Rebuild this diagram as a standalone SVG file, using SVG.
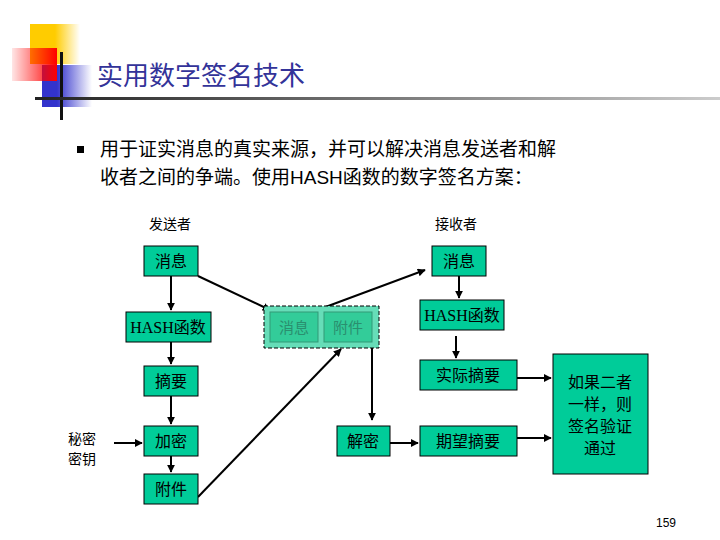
<svg xmlns="http://www.w3.org/2000/svg" width="720" height="540" viewBox="0 0 720 540">
<defs>
<style>
.n{fill:#00CC99;stroke:#000;stroke-width:1}
.t{font-family:"Liberation Serif","Noto Sans CJK SC",serif;font-size:16px;fill:#000;text-anchor:middle}
.c line,.c polyline{stroke:#000;stroke-width:2;fill:none;marker-end:url(#a)}
</style>
<marker id="a" viewBox="0 0 10 10" refX="9" refY="5" markerWidth="4" markerHeight="4" orient="auto"><path d="M0,0L10,5L0,10z" fill="#000"/></marker>
<linearGradient id="gy" x1="0" x2="1"><stop offset="0.5" stop-color="#FFCC00"/><stop offset="1" stop-color="#FFCC00" stop-opacity="0"/></linearGradient>
<linearGradient id="gr" x1="1" x2="0"><stop offset="0" stop-color="#FF0000"/><stop offset="1" stop-color="#FF0000" stop-opacity="0.1"/></linearGradient>
<linearGradient id="gb" x1="0" x2="1"><stop offset="0.3" stop-color="#3333CC"/><stop offset="1" stop-color="#3333CC" stop-opacity="0"/></linearGradient>
<linearGradient id="gl" x1="0" x2="1"><stop offset="0" stop-color="#222"/><stop offset="1" stop-color="#ccc"/></linearGradient>
</defs>
<rect width="720" height="540" fill="#fff"/>
<g id="logo">
<rect x="30" y="24" width="50" height="40" fill="url(#gy)"/>
<rect x="42" y="65" width="50" height="42" fill="url(#gb)"/>
<rect x="12" y="48" width="45" height="33" fill="url(#gr)"/>
<rect x="60" y="52" width="3" height="68" fill="#111"/>
<rect x="35" y="97" width="685" height="3" fill="url(#gl)"/>
</g>
<text x="97" y="85" style="font-family:'Noto Sans CJK SC',sans-serif;font-size:26px;fill:#333399">实用数字签名技术</text>
<rect x="77" y="146" width="7" height="7" fill="#000"/>
<text style="font-family:'Liberation Sans','Noto Sans CJK SC',sans-serif;font-size:19px;fill:#000"><tspan x="100" y="156">用于证实消息的真实来源，并可以解决消息发送者和解</tspan><tspan x="100" y="184">收者之间的争端。使用HASH函数的数字签名方案：</tspan></text>
<text x="170" y="229" class="t" style="font-size:14px">发送者</text>
<text x="456" y="229" class="t" style="font-size:14px">接收者</text>
<text class="t" style="font-size:14px"><tspan x="82" y="444">秘密</tspan><tspan x="82" y="464">密钥</tspan></text>
<g class="c">
<line x1="171" y1="276" x2="171" y2="310"/>
<line x1="171" y1="342" x2="171" y2="364"/>
<line x1="171" y1="396" x2="171" y2="424"/>
<line x1="171" y1="456" x2="171" y2="472"/>
<line x1="114" y1="443" x2="142" y2="443"/>
<line x1="198" y1="276" x2="270" y2="310"/>
<line x1="312" y1="312" x2="425" y2="270"/>
<line x1="198" y1="497" x2="341" y2="349"/>
<polyline points="372,342 372,420"/>
<line x1="390" y1="443" x2="418" y2="443"/>
<line x1="459" y1="276" x2="459" y2="298"/>
<line x1="456" y1="336" x2="456" y2="358"/>
<line x1="517" y1="378" x2="551" y2="378"/>
<line x1="517" y1="438" x2="551" y2="438"/>
</g>
<g id="s_msg"><rect class="n" x="144" y="246" width="54" height="30"/><text class="t" x="171" y="267">消息</text></g>
<g id="s_hash"><rect class="n" x="126" y="312" width="85" height="30"/><text class="t" x="168" y="333">HASH函数</text></g>
<g id="s_dig"><rect class="n" x="144" y="366" width="54" height="30"/><text class="t" x="171" y="387">摘要</text></g>
<g id="s_enc"><rect class="n" x="144" y="426" width="54" height="30"/><text class="t" x="171" y="447">加密</text></g>
<g id="s_att"><rect class="n" x="144" y="474" width="54" height="30"/><text class="t" x="171" y="495">附件</text></g>
<g id="mid">
<rect x="264" y="306" width="115" height="42" fill="#66DDB8" stroke="#000" stroke-dasharray="4,2"/>
<rect x="270" y="312" width="48" height="30" fill="#33CC99" stroke="#339977"/>
<text class="t" x="294" y="333" style="fill:#2a8f6f;font-size:15px">消息</text>
<rect x="324" y="312" width="48" height="30" fill="#33CC99" stroke="#339977"/>
<text class="t" x="348" y="333" style="fill:#2a8f6f;font-size:15px">附件</text>
</g>
<g id="dec"><rect class="n" x="337" y="426" width="53" height="30"/><text class="t" x="363" y="447">解密</text></g>
<g id="r_msg"><rect class="n" x="432" y="246" width="54" height="30"/><text class="t" x="459" y="267">消息</text></g>
<g id="r_hash"><rect class="n" x="420" y="300" width="84" height="30"/><text class="t" x="462" y="321">HASH函数</text></g>
<g id="r_act"><rect class="n" x="420" y="360" width="97" height="30"/><text class="t" x="468" y="381">实际摘要</text></g>
<g id="r_exp"><rect class="n" x="420" y="426" width="97" height="30"/><text class="t" x="468" y="447">期望摘要</text></g>
<g id="res"><rect class="n" x="553" y="354" width="95" height="120"/><text class="t"><tspan x="600" y="388">如果二者</tspan><tspan x="600" y="410">一样，则</tspan><tspan x="600" y="432">签名验证</tspan><tspan x="600" y="454">通过</tspan></text></g>
<text x="676" y="527" style="font-family:'Liberation Sans',sans-serif;font-size:12px;text-anchor:end">159</text>
</svg>
